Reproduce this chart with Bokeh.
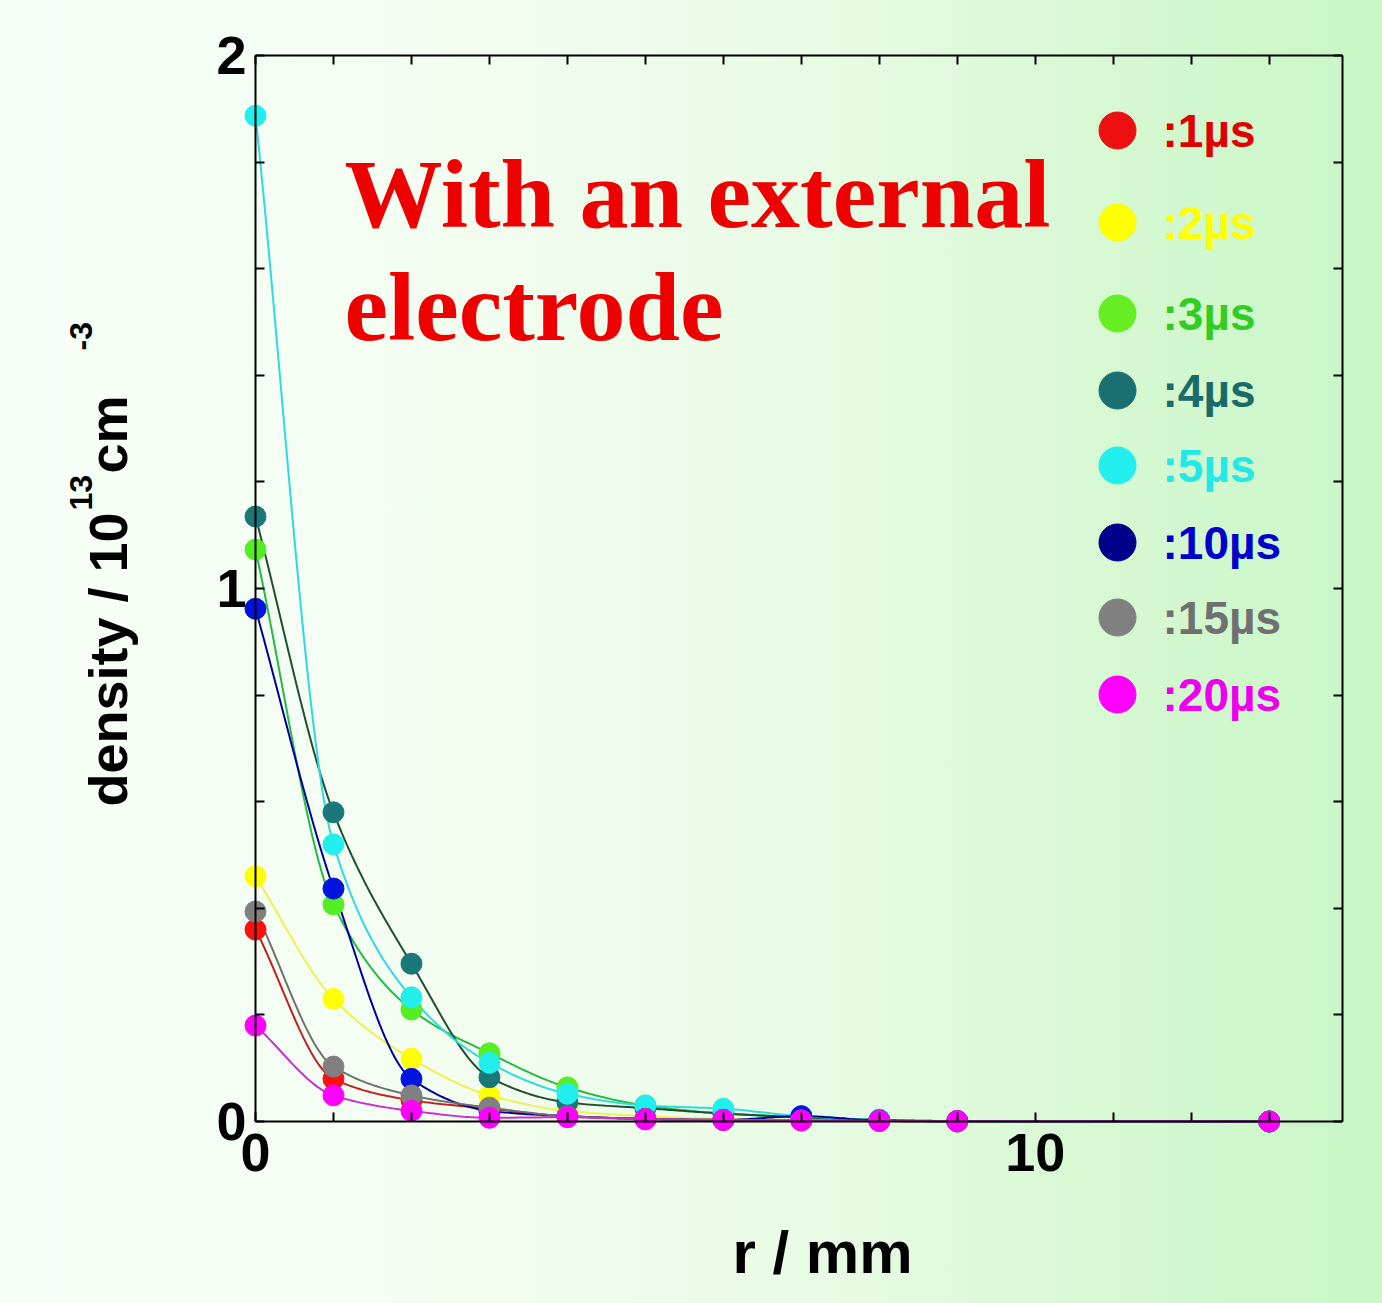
import numpy as np
from bokeh.plotting import figure
from bokeh.models import FixedTicker, Label, LinearAxis, Range1d, GlobalInlineStyleSheet
from bokeh.embed import file_html
from bokeh.resources import INLINE

# ---------------- data ----------------
r_mm = [0, 1, 2, 3, 4, 5, 6, 7, 8, 9, 13]
series_names = [":1µs", ":2µs", ":3µs", ":4µs", ":5µs", ":10µs", ":15µs", ":20µs"]
d_1us = [0.36, 0.08, 0.04, 0.024, 0.010, 0.005, 0.003, 0.002, 0.001, 0.0, 0.0]
d_2us = [0.46, 0.23, 0.118, 0.049, 0.020, 0.010, 0.005, 0.003, 0.001, 0.0, 0.0]
d_3us = [1.073, 0.407, 0.21, 0.128, 0.064, 0.030, 0.015, 0.008, 0.003, 0.0, 0.0]
d_4us = [1.135, 0.58, 0.296, 0.083, 0.036, 0.025, 0.015, 0.008, 0.003, 0.0, 0.0]
d_5us = [1.887, 0.52, 0.233, 0.11, 0.052, 0.030, 0.024, 0.010, 0.003, 0.0, 0.0]
d_10us = [0.962, 0.437, 0.08, 0.02, 0.010, 0.005, 0.003, 0.010, 0.002, 0.001, 0.0]
d_15us = [0.394, 0.103, 0.049, 0.026, 0.010, 0.005, 0.003, 0.002, 0.001, 0.0, 0.0]
d_20us = [0.18, 0.049, 0.02, 0.007, 0.008, 0.004, 0.003, 0.002, 0.001, 0.001, 0.0]
series_values = [d_1us, d_2us, d_3us, d_4us, d_5us, d_10us, d_15us, d_20us]

x_ticks = [0, 10]
x_minor = [1, 2, 3, 4, 5, 6, 7, 8, 9, 11, 12, 13]
y_ticks = [0, 1, 2]
y_minor = [0.2, 0.4, 0.6, 0.8, 1.2, 1.4, 1.6, 1.8]
x_limits = (0, 13.94)
y_limits = (0, 2)

# ---------------- styles ----------------
marker_colors = ["#ff1010", "#ffff00", "#55ee22", "#1a7878", "#22eeee", "#0014e0", "#808080", "#ff00ff"]
legend_colors = ["#ee1010", "#ffff00", "#66ee22", "#1a7070", "#22eeee", "#00008b", "#808080", "#ff00ff"]
line_colors = ["#c02020", "#f0f050", "#22bb44", "#1f4f2f", "#30d8e0", "#000099", "#707070", "#cc30cc"]
text_colors = ["#e00000", "#ffff00", "#33cc22", "#1a6a6a", "#22e8e8", "#0000cc", "#707070", "#ee00ee"]


def monotone_curve(x, y, n=400):
    x = np.asarray(x, float)
    y = np.asarray(y, float)
    h = np.diff(x)
    d = np.diff(y) / h
    m = np.zeros_like(y)
    m[0], m[-1] = d[0], d[-1]
    for k in range(1, len(x) - 1):
        if d[k - 1] * d[k] <= 0:
            m[k] = 0.0
        else:
            w1 = 2 * h[k] + h[k - 1]
            w2 = h[k] + 2 * h[k - 1]
            m[k] = (w1 + w2) / (w1 / d[k - 1] + w2 / d[k])
    xs = np.linspace(x[0], x[-1], n)
    idx = np.clip(np.searchsorted(x, xs) - 1, 0, len(x) - 2)
    t = (xs - x[idx]) / h[idx]
    h00 = 2 * t**3 - 3 * t**2 + 1
    h10 = t**3 - 2 * t**2 + t
    h01 = -2 * t**3 + 3 * t**2
    h11 = t**3 - t**2
    ys = h00 * y[idx] + h10 * h[idx] * m[idx] + h01 * y[idx + 1] + h11 * h[idx] * m[idx + 1]
    return xs, ys


# layout: the frame fills the whole canvas; the drawn box sits inside it
W, H = 1366, 1287
BOX_L, BOX_R, BOX_T, BOX_B = 255, 1342, 55, 1121   # pixels of the axis box
sx = (BOX_R - BOX_L) / (x_limits[1] - x_limits[0])
sy = (BOX_B - BOX_T) / (y_limits[1] - y_limits[0])
BASE = 0.378  # alphabetic-baseline correction of Label (fraction of font size)


def dx(px):
    return x_limits[0] + (px - BOX_L) / sx


def dy(py):
    return y_limits[0] + (BOX_B - py) / sy


p = figure(width=W, height=H, output_backend="svg", toolbar_location=None,
           x_range=Range1d(dx(0), dx(W)), y_range=Range1d(dy(H), dy(0)),
           x_axis_location=None, y_axis_location=None, min_border=0)
p.grid.visible = False
p.outline_line_color = None
p.background_fill_alpha = 0
p.border_fill_alpha = 0
p.stylesheets = [GlobalInlineStyleSheet(css="html { min-height: 100%; background: linear-gradient(to right, #f8fff8 0%, #f2fdf0 35%, #e8fbe4 60%, #d6f8d2 80%, #c8f6c6 100%); }")]

font = "Liberation Sans"


def make_axis(labels, loc, bounds):
    ax = LinearAxis(fixed_location=loc, bounds=bounds)
    ax.axis_line_width = 2
    ax.axis_line_color = "black"
    ax.major_tick_in = 9
    ax.major_tick_out = 0
    ax.minor_tick_in = 9
    ax.minor_tick_out = 0
    ax.major_tick_line_width = 2
    ax.minor_tick_line_width = 2
    ax.major_label_text_font = font
    ax.major_label_text_font_style = "bold"
    if labels:
        ax.major_label_text_font_size = "54px"
        ax.major_label_text_color = "black"
    else:
        ax.major_label_text_font_size = "0px"
        ax.major_label_text_color = None
    return ax


xb = make_axis(True, y_limits[0], x_limits)
xb.ticker = FixedTicker(ticks=x_ticks, minor_ticks=x_minor)
xb.major_label_standoff = 12
xt = make_axis(False, y_limits[1], x_limits)
xt.ticker = FixedTicker(ticks=x_ticks, minor_ticks=x_minor)
yl = make_axis(True, x_limits[0], y_limits)
yl.ticker = FixedTicker(ticks=y_ticks, minor_ticks=y_minor)
yl.major_label_standoff = 9
yr = make_axis(False, x_limits[1], y_limits)
yr.ticker = FixedTicker(ticks=y_ticks, minor_ticks=y_minor)
p.add_layout(xb, "below")
p.add_layout(xt, "above")
p.add_layout(yl, "left")
p.add_layout(yr, "right")

# curves
for vals, lc in zip(series_values, line_colors):
    xs, ys = monotone_curve(r_mm, vals)
    p.line(xs, ys, line_color=lc, line_width=2)

# points
for vals, mc in zip(series_values, marker_colors):
    p.scatter(r_mm, vals, size=21, fill_color=mc, line_color=mc)

# legend (custom, coloured labels)
legend_py = [130, 222, 313, 390, 465, 542, 617, 694]
for name, py, lc, tc in zip(series_names, legend_py, legend_colors, text_colors):
    p.scatter([dx(1117)], [dy(py)], size=37, fill_color=lc, line_color=lc)
    p.add_layout(Label(x=dx(1162), y=dy(py), text=name, text_font=font, text_font_style="bold",
                       text_font_size="46px", text_color=tc, text_align="left", text_baseline="middle"))


def hlabel(text, px, py, size, color, fnt, align="left"):
    # (px, py): wanted alphabetic baseline point
    p.add_layout(Label(x=dx(px), y=dy(py - BASE * size), text=text, text_font=fnt,
                       text_font_style="bold", text_font_size=f"{size}px", text_color=color,
                       text_align=align, text_baseline="alphabetic"))


def vlabel(text, px, py, size):
    # rotated 90 degrees; (px, py): wanted baseline start point
    p.add_layout(Label(x=dx(px - BASE * size), y=dy(py), text=text, angle=np.pi / 2,
                       text_font=font, text_font_style="bold", text_font_size=f"{size}px",
                       text_color="black", text_align="left", text_baseline="alphabetic"))


# title text in the plot
title_font = "Liberation Serif"
hlabel("With an external", 344, 231, 98, "#ee0000", title_font)
hlabel("electrode", 344, 344, 98, "#ee0000", title_font)

# x-axis label
hlabel("r / mm", 822, 1275, 60, "black", font, align="center")

# y-axis label composed with superscripts
vlabel("density / 10", 128, 806, 54)
vlabel("13", 93, 510, 32)
vlabel("cm", 128, 473, 54)
vlabel("-3", 93, 350, 32)

open("out.html", "w").write(file_html(p, INLINE))
